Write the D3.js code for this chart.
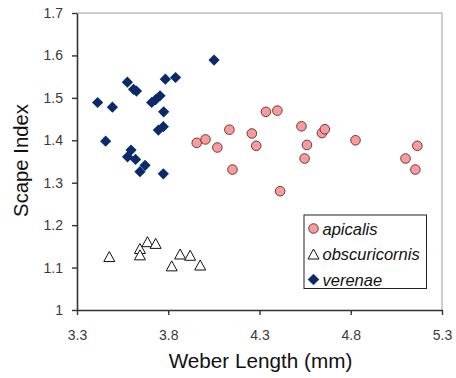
<!DOCTYPE html>
<html>
<head>
<meta charset="utf-8">
<script src="https://cdn.jsdelivr.net/npm/d3@7"></script>
<style>
    html, body { margin: 0; padding: 0; background: #fff; }
    svg { display: block; font-family: Arial, "Liberation Sans", sans-serif; }
</style>
</head>
<body>
<div id="chart"></div>
<script>
// Weber length (mm) vs scape index, three species
const apicalisX = [3.956, 4.004, 4.069, 4.135, 4.152, 4.258, 4.282, 4.335, 4.398, 4.413,
    4.530, 4.560, 4.547, 4.642, 4.658, 4.826, 5.100, 5.165, 5.154];
const apicalisY = [1.394, 1.402, 1.383, 1.425, 1.331, 1.416, 1.387, 1.467, 1.470, 1.280,
    1.433, 1.389, 1.357, 1.417, 1.426, 1.400, 1.357, 1.387, 1.331];

const obscuricornisX = [3.477, 3.645, 3.645, 3.686, 3.731, 3.819, 3.865, 3.920, 3.975];
const obscuricornisY = [1.126, 1.145, 1.130, 1.161, 1.157, 1.104, 1.132, 1.129, 1.106];

const verenaeX = [3.413, 3.494, 3.457, 3.576, 3.610, 3.626, 3.709, 3.731, 3.755, 3.775, 3.746,
    3.773, 3.784, 3.840, 4.051, 3.596, 3.577, 3.621, 3.673, 3.645, 3.773];
const verenaeY = [1.489, 1.478, 1.398, 1.537, 1.520, 1.516, 1.489, 1.496, 1.505, 1.467, 1.424,
    1.432, 1.544, 1.548, 1.589, 1.377, 1.361, 1.355, 1.341, 1.326, 1.321];

const xTicks = [3.3, 3.8, 4.3, 4.8, 5.3];
const yTicks = [1, 1.1, 1.2, 1.3, 1.4, 1.5, 1.6, 1.7];
const seriesNames = ['apicalis', 'obscuricornis', 'verenae'];

const width = 456, height = 378;
const margin = { top: 13, right: 14, bottom: 68, left: 77 };

const x = d3.scaleLinear().domain([3.3, 5.3]).range([margin.left, width - margin.right]);
const y = d3.scaleLinear().domain([1, 1.7]).range([height - margin.bottom, margin.top]);

const svg = d3.select('#chart').append('svg')
    .attr('width', width)
    .attr('height', height);

// plot area frame (top / right are light grey)
svg.append('path')
    .attr('d', `M${x(3.3)},${y(1.7)}H${x(5.3)}V${y(1)}`)
    .attr('fill', 'none')
    .attr('stroke', '#9a9a9a')
    .attr('stroke-width', 1);

const yAxis = svg.append('g')
    .attr('transform', `translate(${margin.left},0)`)
    .call(d3.axisLeft(y).tickValues(yTicks).tickSize(5).tickSizeOuter(0).tickPadding(9)
        .tickFormat(d => d3.format('')(+d.toFixed(1))));

const xAxis = svg.append('g')
    .attr('transform', `translate(0,${height - margin.bottom})`)
    .call(d3.axisBottom(x).tickValues(xTicks).tickSize(5).tickSizeOuter(0).tickPadding(15)
        .tickFormat(d3.format('.1f')));

[xAxis, yAxis].forEach(a => {
    a.select('.domain').attr('stroke', '#333').attr('stroke-width', 1.6);
    a.selectAll('.tick line').attr('stroke', '#333').attr('stroke-width', 1.4);
    a.selectAll('.tick text').attr('fill', '#3a3a3a').style('font-size', '14px')
        .style('font-family', 'Arial, "Liberation Sans", sans-serif');
});

// marker shapes
const diamond = r => `M0,${-r}L${r},0L0,${r}L${-r},0Z`;
const triangle = (w, h) => `M0,${-h / 2}L${w / 2},${h / 2}L${-w / 2},${h / 2}Z`;

const styles = {
    apicalis: { path: null, fill: '#ff9a9a', stroke: '#4a3030', sw: 0.9 },
    obscuricornis: { path: triangle(11, 10), fill: '#fff', stroke: '#111', sw: 1 },
    verenae: { path: diamond(5.6), fill: '#0b2a6a', stroke: '#0b2a6a', sw: 0.3 }
};

const pts = (xs, ys) => xs.map((v, i) => ({ x: v, y: ys[i] }));

svg.append('g').selectAll('path')
    .data(pts(verenaeX, verenaeY))
    .join('path')
    .attr('transform', d => `translate(${x(d.x)},${y(d.y)})`)
    .attr('d', styles.verenae.path)
    .attr('fill', styles.verenae.fill);

svg.append('g').selectAll('path')
    .data(pts(obscuricornisX, obscuricornisY))
    .join('path')
    .attr('transform', d => `translate(${x(d.x)},${y(d.y)})`)
    .attr('d', styles.obscuricornis.path)
    .attr('fill', styles.obscuricornis.fill)
    .attr('stroke', styles.obscuricornis.stroke)
    .attr('stroke-width', styles.obscuricornis.sw);

svg.append('g').selectAll('circle')
    .data(pts(apicalisX, apicalisY))
    .join('circle')
    .attr('cx', d => x(d.x))
    .attr('cy', d => y(d.y))
    .attr('r', 4.8)
    .attr('fill', styles.apicalis.fill)
    .attr('stroke', styles.apicalis.stroke)
    .attr('stroke-width', styles.apicalis.sw);

// axis titles
svg.append('text')
    .attr('x', (x(3.3) + x(5.3)) / 2 + 1)
    .attr('y', 368)
    .attr('text-anchor', 'middle')
    .style('font-size', '20.7px')
    .attr('fill', '#111')
    .text('Weber Length (mm)');

svg.append('text')
    .attr('transform', `translate(28,${(y(1) + y(1.7)) / 2 - 1}) rotate(-90)`)
    .attr('text-anchor', 'middle')
    .style('font-size', '20.3px')
    .attr('fill', '#111')
    .text('Scape Index');

// legend
const legend = svg.append('g').attr('transform', 'translate(304,215)');
legend.append('rect')
    .attr('width', 122.5)
    .attr('height', 73.5)
    .attr('fill', '#fff')
    .attr('stroke', '#222')
    .attr('stroke-width', 1);

seriesNames.forEach((name, i) => {
    const row = legend.append('g').attr('transform', `translate(9.5,${13.5 + i * 25.5})`);
    const s = styles[name];
    if (name === 'apicalis') {
        row.append('circle').attr('r', 4.8).attr('fill', s.fill).attr('stroke', s.stroke).attr('stroke-width', s.sw);
    } else {
        row.append('path').attr('d', s.path).attr('fill', s.fill)
            .attr('stroke', s.stroke).attr('stroke-width', s.sw);
    }
    row.append('text')
        .attr('x', 9)
        .attr('y', 6)
        .style('font-size', '16.5px')
        .style('font-style', 'italic')
        .attr('fill', '#111')
        .text(name);
});
</script>
</body>
</html>
